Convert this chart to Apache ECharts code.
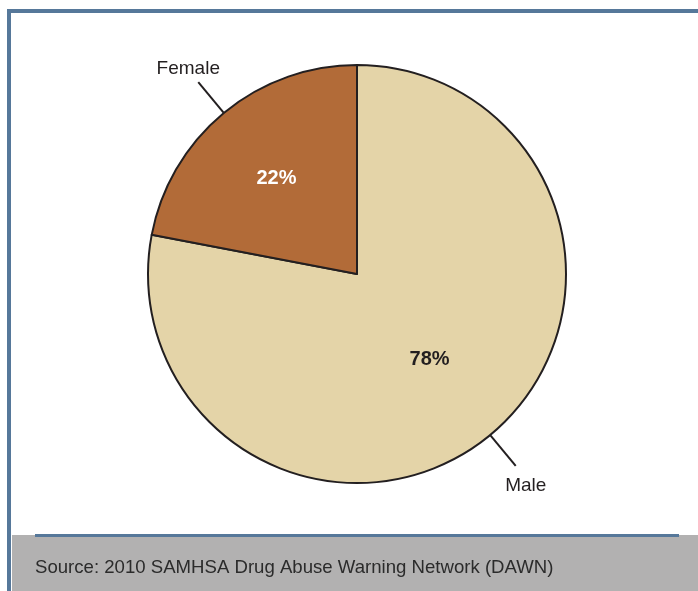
<!DOCTYPE html>
<html>
<head>
<meta charset="utf-8">
<script src="https://cdn.jsdelivr.net/npm/echarts@6/dist/echarts.min.js"></script>
<style>
html,body{margin:0;padding:0;background:#ffffff;}
#c{width:698px;height:591px;}
</style>
</head>
<body>
<div id="c"></div>
<script>
// ---- data ----
const categories = ['Male', 'Female'];
const percentValues = [78, 22];
const sourceNote = 'Source: 2010 SAMHSA Drug Abuse Warning Network (DAWN)';

// ---- styles ----
const sliceColors = ['#E4D4A8', '#B26B38'];
const percentColors = ['#231F20', '#FFFFFF'];
const ink = '#231F20';
const frameBlue = '#56789A';
const sans = "'Liberation Sans', Arial, Helvetica, sans-serif";

const chart = echarts.init(document.getElementById('c'), null, {renderer: 'canvas'});
const pieCenter = [357, 274];
const pieRadius = 209;

const sliceData = categories.map((name, i) => ({
  name: name,
  value: percentValues[i],
  itemStyle: {color: sliceColors[i]},
  label: {color: percentColors[i]}
}));
const nameData = categories.map((name, i) => ({name: name, value: percentValues[i]}));

const option = {
  backgroundColor: '#ffffff',
  animation: false,
  title: {
    text: sourceNote,
    left: 35,
    top: 558,
    padding: 0,
    textStyle: {
      fontFamily: sans,
      fontSize: 18.6,
      fontWeight: 'normal',
      color: '#2B2B2B'
    }
  },
  graphic: [
    {type: 'rect', shape: {x: 12, y: 535, width: 686, height: 56}, style: {fill: '#B2B1B1'}, z: 0},
    {type: 'rect', shape: {x: 35, y: 534, width: 644, height: 3}, style: {fill: frameBlue}, z: 1},
    {type: 'rect', shape: {x: 7, y: 9, width: 691, height: 4}, style: {fill: frameBlue}, z: 1},
    {type: 'rect', shape: {x: 7, y: 9, width: 4, height: 582}, style: {fill: frameBlue}, z: 1}
  ],
  series: [
    {
      type: 'pie',
      center: pieCenter,
      radius: pieRadius,
      startAngle: 90,
      clockwise: true,
      silent: true,
      avoidLabelOverlap: false,
      data: sliceData,
      itemStyle: {borderColor: ink, borderWidth: 2},
      label: {
        show: true,
        position: 'inside',
        formatter: '{c}%',
        fontFamily: sans,
        fontSize: 20,
        fontWeight: 'bold'
      },
      labelLine: {show: false},
      labelLayout: function (p) {
        return p.dataIndex === 1 ? {dx: -12, dy: -12.5} : {dx: 4, dy: 3};
      }
    },
    {
      type: 'pie',
      center: pieCenter,
      radius: pieRadius,
      startAngle: 90,
      clockwise: true,
      silent: true,
      avoidLabelOverlap: false,
      data: nameData,
      itemStyle: {color: 'rgba(0,0,0,0)', borderWidth: 0},
      label: {
        show: true,
        position: 'outside',
        formatter: '{b}',
        fontFamily: sans,
        fontSize: 19,
        color: ink,
        distanceToLabelLine: 10
      },
      labelLine: {
        show: true,
        length: 40,
        length2: 0,
        smooth: false,
        lineStyle: {color: ink, width: 2}
      },
      labelLayout: function (p) {
        return p.dataIndex === 1
          ? {align: 'center', verticalAlign: 'bottom', dy: -4}
          : {align: 'center', verticalAlign: 'top', dy: 10.5};
      }
    }
  ]
};
chart.setOption(option);
</script>
</body>
</html>
